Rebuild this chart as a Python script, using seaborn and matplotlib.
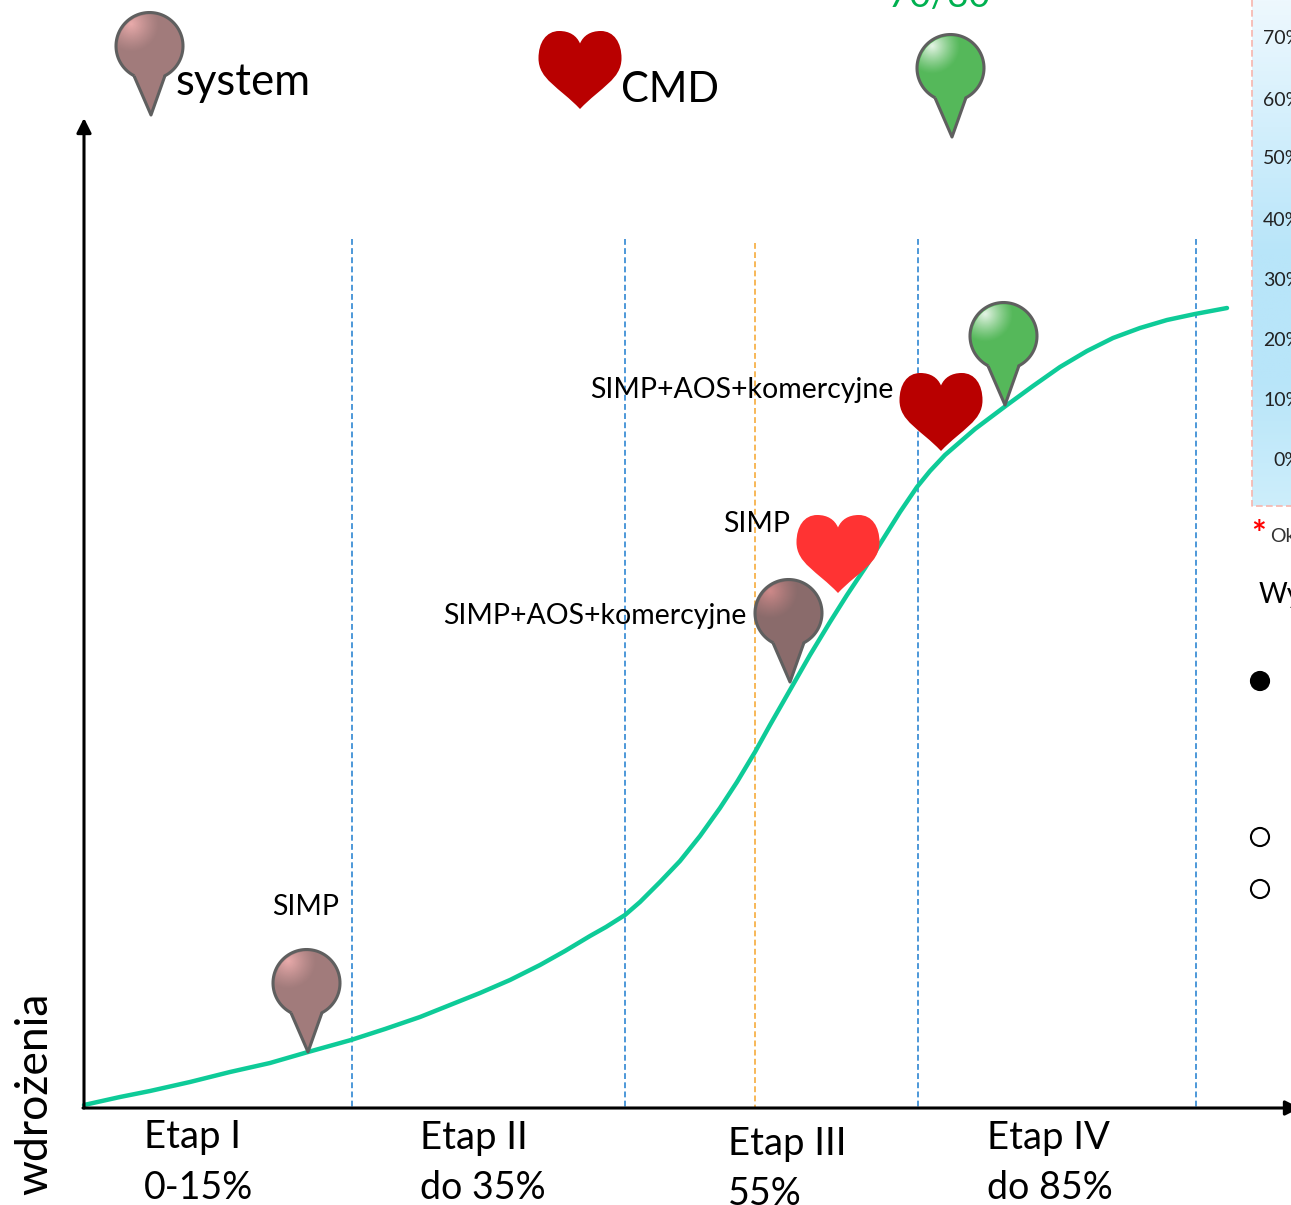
import numpy as np
import seaborn as sns
import matplotlib.pyplot as plt
from matplotlib.colors import LinearSegmentedColormap, to_rgb
from matplotlib.patches import Circle, PathPatch
from matplotlib.path import Path

# everything in its pixel space, y goes down
CURVE_X = [84, 120, 150, 190, 230, 270, 308, 351, 385, 420, 450, 480, 510, 540, 565, 590, 606,
           625, 640, 660, 680, 700, 720, 737, 755, 770, 790, 810, 830, 847, 865, 880, 900, 917,
           930, 945, 975, 1007, 1033, 1060, 1087, 1113, 1140, 1167, 1195, 1227]
CURVE_Y = [1105, 1097, 1091, 1082, 1072, 1063, 1052, 1040, 1029, 1017, 1005, 993, 980, 965, 951, 936, 927,
           915, 902, 882, 861, 836, 808, 782, 752, 725, 690, 655, 622, 595, 568, 544, 512, 487,
           471, 455, 429, 405, 386, 367, 351, 338, 328, 320, 314, 308]

STAGE_LINES_X = [351.5, 625, 917.5, 1195.5]
STAGE_LINES_TOP = [239, 239, 239, 239]
MID_LINE_X = [755]
MID_LINE_TOP = [243]
AXIS_Y = 1108

STAGE_X = [144, 420, 728, 987]
STAGE_NAME = ["Etap I", "Etap II", "Etap III", "Etap IV"]
STAGE_NAME_Y = [1137, 1138, 1144, 1138]
STAGE_RANGE = ["0-15%", "do 35%", "55%", "do 85%"]
STAGE_RANGE_Y = [1188, 1188, 1194, 1188]

# pins: tip x, tip y, body colour, glow colour
PIN_X = [151, 952, 308, 790, 1005]
PIN_Y = [115, 137, 1052, 682, 405]
PIN_BODY = ["#a17b7b", "#55b85a", "#a17b7b", "#8a6b6b", "#55b85a"]
PIN_GLOW = ["#f7b4b4", "#ffffff", "#f7b4b4", "#db8f8f", "#ffffff"]

# hearts: tip x, tip y, colour
HEART_X = [580, 941, 838]
HEART_Y = [109, 451, 593]
HEART_COL = ["#b90000", "#b90000", "#ff3333"]

LABELS = ["SIMP", "SIMP+AOS+komercyjne", "SIMP", "SIMP+AOS+komercyjne"]
LABEL_X = [272, 443, 723, 590]
LABEL_Y = [907, 616, 524, 390]

PANEL_TICKS = ["70%", "60%", "50%", "40%", "30%", "20%", "10%", "0%"]
PANEL_TICK_X = [1263, 1263, 1263, 1263, 1263, 1263, 1263, 1273]
PANEL_TICK_Y = [39, 100, 159, 220, 280, 340, 400, 461]

BULLET_Y = [681, 837, 889]
BULLET_FILL = ["black", "white", "white"]


def draw_pin(ax, tip_x, tip_y, body, glow):
    cx, cy = tip_x - 1.5, tip_y - 69
    r = 33.5
    # open the circle at the bottom where the spike leaves it
    t = np.radians(np.linspace(117, 423, 80))
    xs = cx + r * np.cos(t)
    ys = cy + r * np.sin(t)
    verts = list(zip(xs, ys)) + [(cx + 15, cy + 31), (tip_x, tip_y), (cx - 15, cy + 31), (xs[0], ys[0])]
    shape = PathPatch(Path(verts), facecolor=body, edgecolor="#5f5f5f", linewidth=2.2,
                      joinstyle="round", zorder=5)
    ax.add_patch(shape)

    # shiny spot on the upper left
    g = np.linspace(-1, 1, 120)
    gx, gy = np.meshgrid(g, g)
    dist = np.hypot(gx + 0.55, gy + 0.65)
    rgba = np.zeros((120, 120, 4))
    rgba[..., :3] = to_rgb(glow)
    rgba[..., 3] = np.clip(1 - dist / 0.85, 0, 1) ** 1.2 * 0.85
    im = ax.imshow(rgba, extent=(cx - r, cx + r, cy + r, cy - r), aspect="auto", zorder=6)
    im.set_clip_path(Circle((cx, cy), r - 2, transform=ax.transData))


def draw_heart(ax, tip_x, tip_y, colour):
    w, h = 41.5, 78
    pts = [(0, .16), (.08, .06), (.25, 0), (.5, 0), (.82, 0), (1, .15), (1, .35),
           (1, .62), (.5, .72), (0, 1), (-.5, .72), (-1, .62), (-1, .35),
           (-1, .15), (-.82, 0), (-.5, 0), (-.25, 0), (-.08, .06), (0, .16)]
    verts = [(tip_x + u * w, tip_y - h + v * h) for u, v in pts]
    codes = [Path.MOVETO] + [Path.CURVE4] * 18
    ax.add_patch(PathPatch(Path(verts, codes), facecolor=colour, edgecolor="none", zorder=5))


sns.set_theme(style="white")
plt.rcParams["font.family"] = ["Lato", "DejaVu Sans"]

fig = plt.figure(figsize=(12.91, 12.05), dpi=100)
ax = fig.add_axes([0, 0, 1, 1])
ax.set_xlim(0, 1291)
ax.set_ylim(1205, 0)
ax.set_autoscale_on(False)
ax.axis("off")

# the cut off panel on the right
panel_cmap = LinearSegmentedColormap.from_list("panel", ["#eef8fe", "#d3effc", "#b8e5f9", "#b8e5f9", "#cdeefb"])
ax.imshow(np.linspace(0, 1, 256).reshape(-1, 1), cmap=panel_cmap, extent=(1252, 1300, 506, 0),
          aspect="auto", zorder=1)
ax.plot([1252, 1252, 1300], [0, 506, 506], color="#f7b5ad", lw=1.2, ls=(0, (4, 2)), zorder=2)
for label, x, y in zip(PANEL_TICKS, PANEL_TICK_X, PANEL_TICK_Y):
    ax.text(x, y, label, fontsize=14, color="#222222", va="center", ha="left", zorder=3)
ax.text(1251, 535, "*", fontsize=25, fontweight="bold", color="#ff0000", va="center", zorder=3)
ax.text(1270, 536, "Ok", fontsize=14, color="#333333", va="center", zorder=3)
ax.text(1259, 595, "Wy", fontsize=20, color="black", va="center", zorder=3)
sns.scatterplot(x=[1260] * 3, y=BULLET_Y, c=BULLET_FILL, s=170, edgecolor="black", linewidth=1.5,
                ax=ax, zorder=3, legend=False)

ax.vlines(STAGE_LINES_X, STAGE_LINES_TOP, AXIS_Y, color="#2f86d2", lw=1.2, ls=(0, (3.5, 2)), zorder=2)
ax.vlines(MID_LINE_X, MID_LINE_TOP, AXIS_Y, color="#f6ab3c", lw=1.2, ls=(0, (3.5, 2)), zorder=2)

sns.lineplot(x=CURVE_X, y=CURVE_Y, color="#0ecb98", linewidth=3.2, errorbar=None, ax=ax, zorder=3)

arrow = dict(arrowstyle="-|>", color="black", lw=2.2, shrinkA=0, shrinkB=0, mutation_scale=22)
ax.annotate("", xy=(84, 118), xytext=(84, AXIS_Y), arrowprops=arrow, zorder=4)
ax.annotate("", xy=(1300, AXIS_Y), xytext=(83, AXIS_Y), arrowprops=arrow, zorder=4, annotation_clip=False)

for x, y, body, glow in zip(PIN_X, PIN_Y, PIN_BODY, PIN_GLOW):
    draw_pin(ax, x, y, body, glow)
for x, y, col in zip(HEART_X, HEART_Y, HEART_COL):
    draw_heart(ax, x, y, col)

for label, x, y in zip(LABELS, LABEL_X, LABEL_Y):
    ax.text(x, y, label, fontsize=20.5, color="black", va="center", ha="left", zorder=7)

for x, name, ny, rng, ry in zip(STAGE_X, STAGE_NAME, STAGE_NAME_Y, STAGE_RANGE, STAGE_RANGE_Y):
    ax.text(x, ny, name, fontsize=27.5, color="black", va="center", ha="left", zorder=7)
    ax.text(x, ry, rng, fontsize=27, color="black", va="center", ha="left", zorder=7)

ax.text(176, 95, "system", fontsize=31.5, color="black", va="baseline", ha="left", zorder=7)
ax.text(621, 102, "CMD", fontsize=30, color="black", va="baseline", ha="left", zorder=7)
ax.text(888, 7, "70/30", fontsize=26.5, color="#00b050", va="baseline", ha="left", zorder=7)
ax.text(35, 1195, "wdrożenia", fontsize=32, color="black", rotation=90, va="bottom", ha="center", zorder=7)

fig.savefig("out.png", dpi=100)
